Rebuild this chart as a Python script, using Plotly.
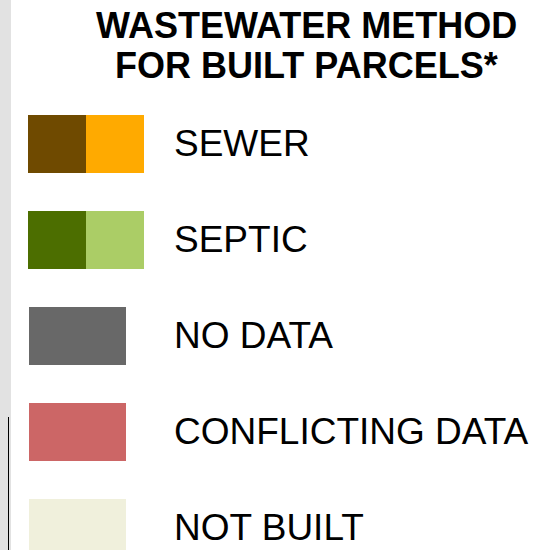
import plotly.graph_objects as go

# ---- data ----
title_lines = ["WASTEWATER METHOD", "FOR BUILT PARCELS*"]
categories = ["SEWER", "SEPTIC", "NO DATA", "CONFLICTING DATA", "NOT BUILT"]
swatch_colors = [
    ["#6f4a00", "#ffaa00"],
    ["#4c6e00", "#abcd66"],
    ["#686868"],
    ["#cc6666"],
    ["#f0f0dc"],
]

# ---- layout constants (pixels) ----
W, H = 540, 550
ROW0, ROWSTEP = 144, 96
SW_H = 58
SPLIT_X0, SPLIT_HALF = 28, 58
SINGLE_X0, SINGLE_W = 29, 97
LABEL_X = 172
FONT = "Liberation Sans, Arial, sans-serif"

y_top = -ROW0 / ROWSTEP
y_bot = (H - ROW0) / ROWSTEP

fig = go.Figure()
for i, (cat, cols) in enumerate(zip(categories, swatch_colors)):
    if len(cols) == 2:
        bases = [SPLIT_X0, SPLIT_X0 + SPLIT_HALF]
        widths = [SPLIT_HALF, SPLIT_HALF]
    else:
        bases = [SINGLE_X0]
        widths = [SINGLE_W]
    for b, w, c in zip(bases, widths, cols):
        fig.add_trace(go.Bar(
            y=[i], x=[w], base=[b], orientation="h",
            width=SW_H / ROWSTEP, marker=dict(color=c, line=dict(width=0)),
            showlegend=False, hoverinfo="skip",
        ))
    fig.add_annotation(
        x=LABEL_X, y=i - 1 / ROWSTEP, text=cat, showarrow=False, xanchor="left", yanchor="middle",
        font=dict(family=FONT, size=37, color="#000000"), xref="x", yref="y",
    )

# title
for j, line in enumerate(title_lines):
    fig.add_annotation(
        x=306, y=(25 + 40 * j - ROW0) / ROWSTEP, text="<b>%s</b>" % line, showarrow=False,
        xanchor="center", yanchor="middle",
        font=dict(family=FONT, size=36, color="#000000"), xref="x", yref="y",
    )

# left gray strip and line
fig.add_shape(type="rect", xref="x", yref="paper", x0=0, x1=11, y0=0, y1=1,
              fillcolor="#e2e2e2", line=dict(width=0), layer="below")
fig.add_shape(type="line", xref="x", yref="y", x0=8.5, x1=8.5,
              y0=(417 - ROW0) / ROWSTEP, y1=y_bot, line=dict(color="#000000", width=1))

fig.update_layout(
    width=W, height=H, margin=dict(l=0, r=0, t=0, b=0),
    paper_bgcolor="white", plot_bgcolor="white", barmode="overlay",
    xaxis=dict(range=[0, W], visible=False, fixedrange=True),
    yaxis=dict(range=[y_bot, y_top], visible=False, fixedrange=True),
)

fig.write_html("out.html", config={"displayModeBar": False},
               post_script="document.body.style.margin='0';document.body.style.overflow='hidden';")
